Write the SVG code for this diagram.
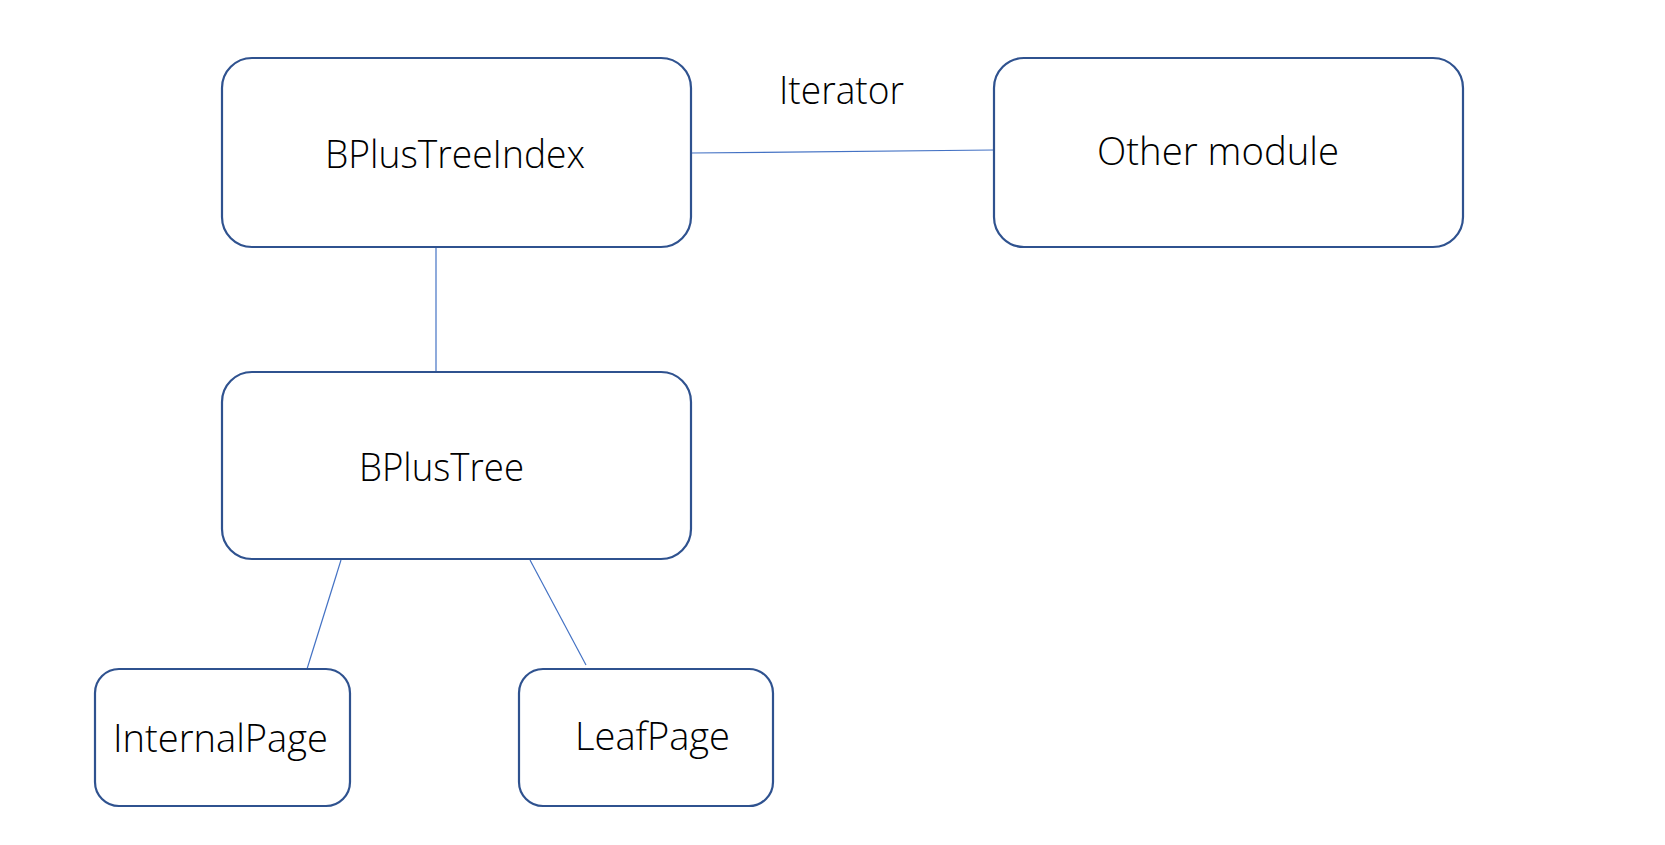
<svg xmlns="http://www.w3.org/2000/svg" width="1665" height="845" viewBox="0 0 1665 845">
<style>
.box{fill:#fff;stroke:#2F528F;stroke-width:2.2}
.conn{stroke:#4472C4;stroke-width:1.2;fill:none}
.lbl{font-family:"Open Sans","Noto Sans","Liberation Sans",sans-serif;font-weight:300;font-size:39px;fill:#000}
</style>
<rect width="1665" height="845" fill="#fff"/>
<g id="connectors">
<line class="conn" x1="691" y1="153" x2="994" y2="150"/>
<line class="conn" x1="436" y1="247" x2="436" y2="372"/>
<line class="conn" x1="341" y1="560" x2="307" y2="669"/>
<line class="conn" x1="530" y1="560" x2="586" y2="665"/>
<text class="lbl" x="779" y="104" textLength="125" lengthAdjust="spacingAndGlyphs">Iterator</text>
</g>
<g id="node-bplustreeindex">
<rect class="box" x="222" y="58" width="469" height="189" rx="30"/>
<text class="lbl" x="325" y="168" textLength="260" lengthAdjust="spacingAndGlyphs">BPlusTreeIndex</text>
</g>
<g id="node-other">
<rect class="box" x="994" y="58" width="469" height="189" rx="30"/>
<text class="lbl" x="1097" y="165" textLength="242" lengthAdjust="spacingAndGlyphs">Other module</text>
</g>
<g id="node-bplustree">
<rect class="box" x="222" y="372" width="469" height="187" rx="30"/>
<text class="lbl" x="359" y="481" textLength="165" lengthAdjust="spacingAndGlyphs">BPlusTree</text>
</g>
<g id="node-internalpage">
<rect class="box" x="95" y="669" width="255" height="137" rx="24"/>
<text class="lbl" x="113" y="752" textLength="215" lengthAdjust="spacingAndGlyphs">InternalPage</text>
</g>
<g id="node-leafpage">
<rect class="box" x="519" y="669" width="254" height="137" rx="24"/>
<text class="lbl" x="575" y="750" textLength="155" lengthAdjust="spacingAndGlyphs">LeafPage</text>
</g>
</svg>
